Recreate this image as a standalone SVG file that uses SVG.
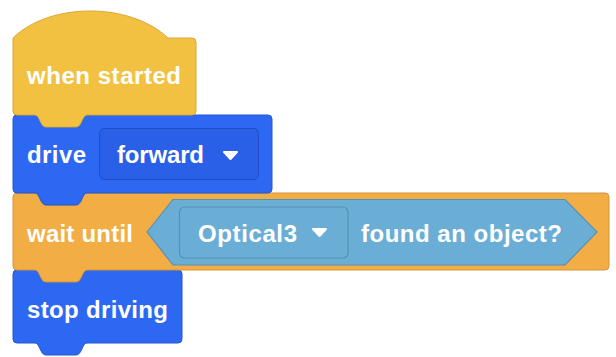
<svg xmlns="http://www.w3.org/2000/svg" width="616" height="357" viewBox="0 0 616 357">
<style>
.lbl{font-family:"Liberation Sans",Arial,Helvetica,sans-serif;font-weight:bold;font-size:24px;fill:#ffffff}
.hat{fill:#F3C142;stroke:#D9A836;stroke-width:1}
.motion{fill:#2D68F2;stroke:#2456CF;stroke-width:1}
.control{fill:#F2AD44;stroke:#D6963A;stroke-width:1}
.field{fill:#2A60E8;stroke:#1F4EC4;stroke-width:1}
.bool{fill:#6BAED5;stroke:#5690B8;stroke-width:1.2}
.bfield{fill:#6BAED5;stroke:#5690B8;stroke-width:1.2}
.tri{fill:#ffffff;stroke:#ffffff;stroke-width:2;stroke-linejoin:round}
</style>
<rect width="616" height="357" fill="#ffffff"/>
<g id="stop-driving">
<path class="motion" d="M13,274 Q13,270 17,270 L35,270 C40,270 40,282 46,282 L76,282 C82,282 82,270 87,270 L178,270 Q182,270 182,274 L182,339 Q182,343 178,343 L87,343 C82,343 82,355 76,355 L46,355 C40,355 40,343 35,343 L17,343 Q13,343 13,339 Z"/>
<text class="lbl" x="27" y="318" textLength="141">stop driving</text>
</g>
<g id="wait-until">
<path class="control" d="M13,197 Q13,193 17,193 L35,193 C40,193 40,205 46,205 L76,205 C82,205 82,193 87,193 L605,193 Q609,193 609,197 L609,266 Q609,270 605,270 L87,270 C82,270 82,282 76,282 L46,282 C40,282 40,270 35,270 L17,270 Q13,270 13,266 Z"/>
<text class="lbl" x="27" y="242" textLength="106">wait until</text>
<g id="optical-found">
<polygon class="bool" points="147,232 173,199.5 565,199.5 597,232 565,265 173,265"/>
<rect class="bfield" x="179.5" y="207" width="168.5" height="51" rx="5"/>
<text class="lbl" x="198" y="242" textLength="99">Optical3</text>
<polygon class="tri" points="313,229 326,229 319.5,236"/>
<text class="lbl" x="361" y="242" textLength="201">found an object?</text>
</g>
</g>
<g id="drive-forward">
<path class="motion" d="M13,119 Q13,115 17,115 L35,115 C40,115 40,127 46,127 L76,127 C82,127 82,115 87,115 L268,115 Q272,115 272,119 L272,189 Q272,193 268,193 L87,193 C82,193 82,205 76,205 L46,205 C40,205 40,193 35,193 L17,193 Q13,193 13,189 Z"/>
<text class="lbl" x="27" y="163" textLength="59">drive</text>
<rect class="field" x="99.5" y="128.5" width="159" height="51" rx="5"/>
<text class="lbl" x="117" y="163" textLength="87">forward</text>
<polygon class="tri" points="224,152 237,152 230.5,159"/>
</g>
<g id="when-started">
<path class="hat" d="M13,38 C50,2 130,2 168,38 L192,38 Q196,38 196,42 L196,111 Q196,115 192,115 L87,115 C82,115 82,127 76,127 L46,127 C40,127 40,115 35,115 L17,115 Q13,115 13,111 Z"/>
<text class="lbl" x="27" y="84" textLength="154">when started</text>
</g>
<g id="connectors"></g>
</svg>
